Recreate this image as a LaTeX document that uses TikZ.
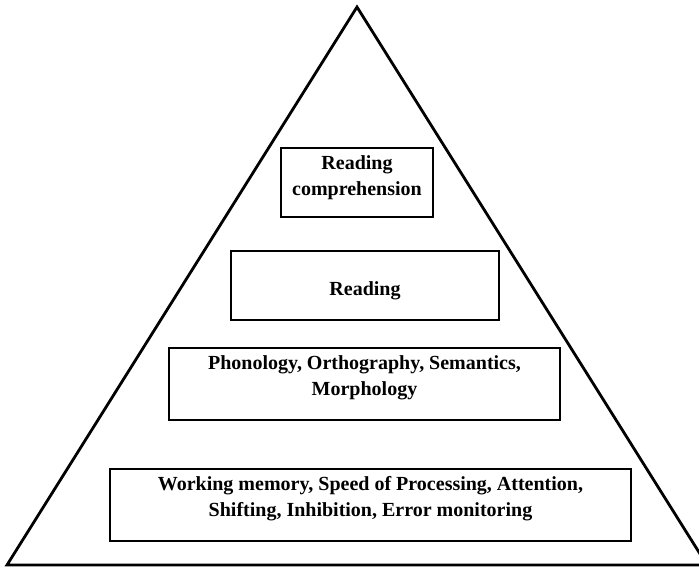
\documentclass[tikz,border=0pt]{standalone}
\usepackage{fontspec}
\setmainfont{Liberation Serif}
\usepackage{tikz}

\tikzset{
	tier/.style={draw, line width=2.4pt, inner sep=0pt},
	tiertext/.style={align=center, font=\fontsize{20}{26}\selectfont\bfseries}
}

\begin{document}
\begin{tikzpicture}[x=1pt, y=-1pt]
	\useasboundingbox (0,0) rectangle (699,568);
	\clip (0,0) rectangle (699,568);

	% the pyramid
	\coordinate (apex) at (357,7);
	\coordinate (left) at (7,565);
	\coordinate (right) at (707,565);
	\draw [line width=2.8pt, line join=miter] (apex) -- (left) -- (right) -- cycle;

	% tiers, top to bottom
	\node[tier, minimum width=152pt, minimum height=69pt] (comp) at (357,182.5) {};
	\node[tiertext] at ([yshift=5pt]comp.center) {Reading\\comprehension};

	\node[tier, minimum width=268pt, minimum height=69pt] (read) at (365,285.5) {};
	\node[tiertext] at ([yshift=-5pt]read.center) {Reading};

	\node[tier, minimum width=391pt, minimum height=72pt] (lang) at (364.5,384) {};
	\node[tiertext] at ([yshift=6pt]lang.center) {Phonology, Orthography, Semantics,\\Morphology};

	\node[tier, minimum width=521pt, minimum height=72pt] (exec) at (370.5,505) {};
	\node[tiertext] at ([yshift=6pt]exec.center) {Working memory, Speed of Processing, Attention,\\Shifting, Inhibition, Error monitoring};
\end{tikzpicture}
\end{document}
